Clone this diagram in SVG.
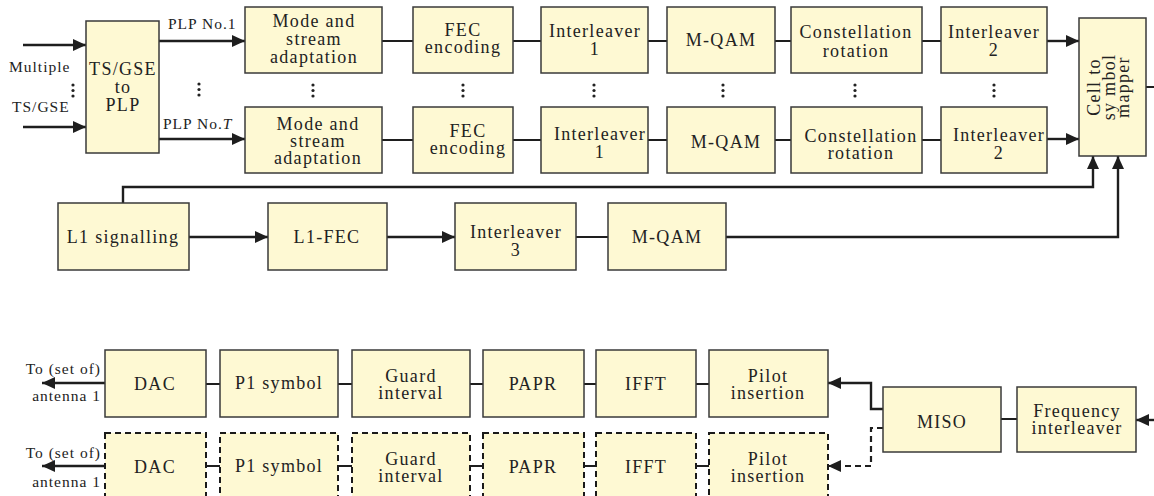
<svg xmlns="http://www.w3.org/2000/svg" width="1154" height="496" viewBox="0 0 1154 496">
<style>
.box{fill:#fef9d3;stroke:#3a3a3a;stroke-width:1.5}
.dbox{fill:#fef9d3;stroke:#1a1a1a;stroke-width:2;stroke-dasharray:6,4}
.t{font-size:18px;fill:#222;text-anchor:middle;letter-spacing:1.3px}
.s{font-size:15.5px;fill:#222;letter-spacing:1px}
.ln{fill:none;stroke:#1e1e1e;stroke-width:2}
.ar{fill:none;stroke:#1e1e1e;stroke-width:2.4;marker-end:url(#ah)}
.dl{fill:none;stroke:#1e1e1e;stroke-width:2.2;stroke-dasharray:6,4;marker-end:url(#ah)}
.dot{fill:#222}
</style>
<defs>
<marker id="ah" markerUnits="userSpaceOnUse" markerWidth="14" markerHeight="12" refX="13" refY="6" orient="auto">
<path d="M0,0 L13,6 L0,12 Z" fill="#1e1e1e"/>
</marker>
</defs>

<g id="connectors">
<path class="ar" d="M23,45 H86"/>
<path class="ar" d="M23,127 H86"/>
<path class="ar" d="M159,41 H245"/>
<path class="ar" d="M159,139 H245"/>
<path class="ln" d="M382,41 H413 M513,41 H541 M648,41 H667 M775,41 H791 M922,41 H941"/>
<path class="ln" d="M382,140 H413 M513,140 H541 M648,140 H667 M775,140 H791 M922,140 H941"/>
<path class="ar" d="M1047,41 H1079"/>
<path class="ar" d="M1047,139 H1079"/>
<path class="ln" d="M1146,87 H1154"/>
<path class="ar" d="M123,203 V187 H1093 V156"/>
<path class="ar" d="M726,237 H1118 V156"/>
<path class="ar" d="M189,237 H268"/>
<path class="ar" d="M387,237 H455"/>
<path class="ln" d="M576,237 H608"/>
<path class="ar" d="M1154,420 H1136"/>
<path class="ln" d="M1001,419 H1017"/>
<path class="ar" d="M883,409 H871 V383 H828"/>
<path class="dl" d="M883,428 H871 V466 H828"/>
<path class="ln" d="M206,384 H220 M338,384 H352 M470,384 H483 M584,384 H596 M696,384 H709"/>
<path class="ln" d="M206,466 H220 M338,466 H352 M470,466 H483 M584,466 H596 M696,466 H709"/>
<path class="ar" d="M105,383 H42"/>
<path class="ar" d="M105,466 H42"/>
</g>

<g font-family="'Liberation Serif','Times New Roman','DejaVu Serif',serif">
<g id="labels">
<text class="s" x="9" y="72">Multiple</text>
<text class="s" x="12" y="112">TS/GSE</text>
<text class="s" x="168" y="29">PLP No.1</text>
<text class="s" x="163" y="129">PLP No.<tspan font-style="italic">T</tspan></text>
<text class="s" x="101" y="374" text-anchor="end">To (set of)</text>
<text class="s" x="101" y="401" text-anchor="end">antenna 1</text>
<text class="s" x="101" y="458" text-anchor="end">To (set of)</text>
<text class="s" x="101" y="487" text-anchor="end">antenna 1</text>
</g>

<g id="dots">
<circle class="dot" cx="73" cy="85" r="1.6"/><circle class="dot" cx="73" cy="90.5" r="1.6"/><circle class="dot" cx="73" cy="96" r="1.6"/>
<circle class="dot" cx="199" cy="84" r="1.6"/><circle class="dot" cx="199" cy="89.5" r="1.6"/><circle class="dot" cx="199" cy="95" r="1.6"/>
<circle class="dot" cx="313" cy="85" r="1.6"/><circle class="dot" cx="313" cy="90.5" r="1.6"/><circle class="dot" cx="313" cy="96" r="1.6"/>
<circle class="dot" cx="463" cy="85" r="1.6"/><circle class="dot" cx="463" cy="90.5" r="1.6"/><circle class="dot" cx="463" cy="96" r="1.6"/>
<circle class="dot" cx="594" cy="85" r="1.6"/><circle class="dot" cx="594" cy="90.5" r="1.6"/><circle class="dot" cx="594" cy="96" r="1.6"/>
<circle class="dot" cx="723" cy="85" r="1.6"/><circle class="dot" cx="723" cy="90.5" r="1.6"/><circle class="dot" cx="723" cy="96" r="1.6"/>
<circle class="dot" cx="855" cy="85" r="1.6"/><circle class="dot" cx="855" cy="90.5" r="1.6"/><circle class="dot" cx="855" cy="96" r="1.6"/>
<circle class="dot" cx="994" cy="85" r="1.6"/><circle class="dot" cx="994" cy="90.5" r="1.6"/><circle class="dot" cx="994" cy="96" r="1.6"/>
</g>

<g id="ts2plp"><rect class="box" x="86" y="21" width="73" height="132"/>
<text class="t" x="123" y="75">TS/GSE</text><text class="t" x="123" y="93">to</text><text class="t" x="123" y="111">PLP</text></g>

<g id="mode1"><rect class="box" x="245" y="7" width="137" height="66"/>
<text class="t" x="314" y="27">Mode and</text><text class="t" x="314" y="45">stream</text><text class="t" x="314" y="63">adaptation</text></g>
<g id="fec1"><rect class="box" x="413" y="7" width="100" height="66"/>
<text class="t" x="463" y="36">FEC</text><text class="t" x="463" y="53">encoding</text></g>
<g id="il1a"><rect class="box" x="541" y="7" width="107" height="66"/>
<text class="t" x="595" y="37">Interleaver</text><text class="t" x="595" y="55">1</text></g>
<g id="qam1"><rect class="box" x="667" y="7" width="108" height="66"/>
<text class="t" x="721" y="46">M-QAM</text></g>
<g id="rot1"><rect class="box" x="791" y="7" width="131" height="66"/>
<text class="t" x="856" y="38">Constellation</text><text class="t" x="856" y="57">rotation</text></g>
<g id="il2a"><rect class="box" x="941" y="7" width="106" height="66"/>
<text class="t" x="994" y="38">Interleaver</text><text class="t" x="994" y="56">2</text></g>

<g id="mode2"><rect class="box" x="245" y="107" width="137" height="66"/>
<text class="t" x="318" y="130">Mode and</text><text class="t" x="318" y="147">stream</text><text class="t" x="318" y="164">adaptation</text></g>
<g id="fec2"><rect class="box" x="413" y="107" width="100" height="66"/>
<text class="t" x="468" y="137">FEC</text><text class="t" x="468" y="154">encoding</text></g>
<g id="il1b"><rect class="box" x="541" y="107" width="107" height="66"/>
<text class="t" x="600" y="140">Interleaver</text><text class="t" x="600" y="158">1</text></g>
<g id="qam2"><rect class="box" x="667" y="107" width="108" height="66"/>
<text class="t" x="726" y="148">M-QAM</text></g>
<g id="rot2"><rect class="box" x="791" y="107" width="131" height="66"/>
<text class="t" x="861" y="142">Constellation</text><text class="t" x="861" y="159">rotation</text></g>
<g id="il2b"><rect class="box" x="941" y="107" width="106" height="66"/>
<text class="t" x="999" y="141">Interleaver</text><text class="t" x="999" y="159">2</text></g>

<g id="cellmapper"><rect class="box" x="1079" y="18" width="67" height="138"/>
<g transform="translate(1112.5,87) rotate(-90)">
<text class="t" x="0" y="-13">Cell to</text><text class="t" x="0" y="2">sy mbol</text><text class="t" x="0" y="16">mapper</text></g></g>

<g id="l1sig"><rect class="box" x="58" y="203" width="131" height="67"/>
<text class="t" x="123" y="243">L1 signalling</text></g>
<g id="l1fec"><rect class="box" x="268" y="203" width="119" height="67"/>
<text class="t" x="327" y="243">L1-FEC</text></g>
<g id="il3"><rect class="box" x="455" y="203" width="121" height="67"/>
<text class="t" x="516" y="238">Interleaver</text><text class="t" x="516" y="256">3</text></g>
<g id="qam3"><rect class="box" x="608" y="203" width="118" height="67"/>
<text class="t" x="667" y="243">M-QAM</text></g>

<g id="dac1"><rect class="box" x="105" y="350" width="101" height="67"/>
<text class="t" x="155" y="390">DAC</text></g>
<g id="p1a"><rect class="box" x="220" y="350" width="118" height="67"/>
<text class="t" x="279" y="389">P1 symbol</text></g>
<g id="gi1"><rect class="box" x="352" y="350" width="118" height="67"/>
<text class="t" x="411" y="382">Guard</text><text class="t" x="411" y="399">interval</text></g>
<g id="papr1"><rect class="box" x="483" y="350" width="101" height="67"/>
<text class="t" x="533" y="390">PAPR</text></g>
<g id="ifft1"><rect class="box" x="596" y="350" width="100" height="67"/>
<text class="t" x="646" y="390">IFFT</text></g>
<g id="pilot1"><rect class="box" x="709" y="350" width="119" height="67"/>
<text class="t" x="768" y="382">Pilot</text><text class="t" x="768" y="399">insertion</text></g>

<g id="dac2"><rect class="dbox" x="105" y="433" width="101" height="67"/>
<text class="t" x="155" y="473">DAC</text></g>
<g id="p1b"><rect class="dbox" x="220" y="433" width="118" height="67"/>
<text class="t" x="279" y="472">P1 symbol</text></g>
<g id="gi2"><rect class="dbox" x="352" y="433" width="118" height="67"/>
<text class="t" x="411" y="465">Guard</text><text class="t" x="411" y="482">interval</text></g>
<g id="papr2"><rect class="dbox" x="483" y="433" width="101" height="67"/>
<text class="t" x="533" y="473">PAPR</text></g>
<g id="ifft2"><rect class="dbox" x="596" y="433" width="100" height="67"/>
<text class="t" x="646" y="473">IFFT</text></g>
<g id="pilot2"><rect class="dbox" x="709" y="433" width="119" height="67"/>
<text class="t" x="768" y="465">Pilot</text><text class="t" x="768" y="482">insertion</text></g>

<g id="miso"><rect class="box" x="883" y="387" width="118" height="65"/>
<text class="t" x="942" y="428">MISO</text></g>
<g id="freqil"><rect class="box" x="1017" y="387" width="119" height="65"/>
<text class="t" x="1077" y="417">Frequency</text><text class="t" x="1077" y="434">interleaver</text></g>
</g>
</svg>
